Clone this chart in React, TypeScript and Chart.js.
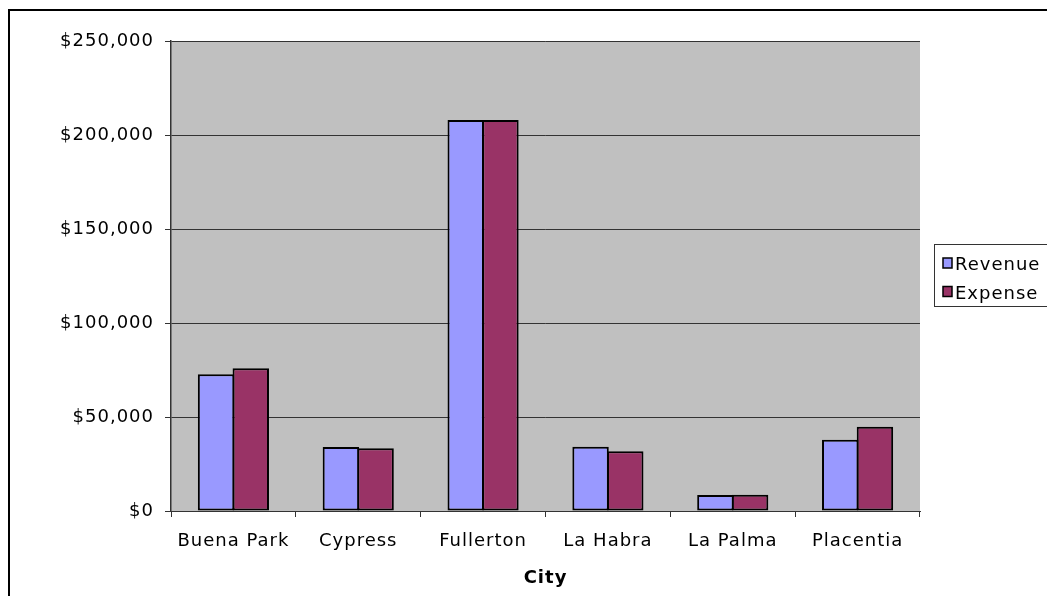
import React, { useEffect, useRef } from 'react';
import { Chart, registerables } from 'chart.js';

Chart.register(...registerables);

const cities = ['Buena Park', 'Cypress', 'Fullerton', 'La Habra', 'La Palma', 'Placentia'];
const revenue = [72700, 34000, 208000, 34200, 8500, 37900];
const expense = [75900, 33400, 208000, 31800, 8700, 44800];
const seriesNames = ['Revenue', 'Expense'];
const seriesColors = ['#9999FF', '#993366'];
const yMin = 0;
const yMax = 250000;
const yStep = 50000;
const xTitle = 'City';

const FONT = '"DejaVu Sans", Verdana, sans-serif';

const framePlugin = {
  id: 'frame',
  beforeLayout(chart: any) {
    chart.ctx.letterSpacing = '1px';
  },
  beforeDraw(chart: any) {
    const { ctx, chartArea } = chart;
    ctx.save();
    ctx.fillStyle = '#ffffff';
    ctx.fillRect(0, 0, chart.width, chart.height);
    ctx.fillStyle = '#C0C0C0';
    ctx.fillRect(chartArea.left, chartArea.top, chartArea.right - chartArea.left, chartArea.bottom - chartArea.top);
    ctx.strokeStyle = '#000000';
    ctx.lineWidth = 2;
    ctx.strokeRect(9, 10, 1200, 800);
    ctx.restore();
    ctx.letterSpacing = '1px';
  },
};

const legendPlugin = {
  id: 'customLegend',
  afterDraw(chart: any) {
    const ctx = chart.ctx;
    ctx.save();
    ctx.letterSpacing = '1px';
    ctx.fillStyle = '#ffffff';
    ctx.fillRect(934.5, 244.5, 200, 62);
    ctx.strokeStyle = '#333333';
    ctx.lineWidth = 1;
    ctx.strokeRect(934.5, 244.5, 200, 62);
    [0, 1].forEach((i) => {
      const sy = 258 + i * 28.5;
      ctx.fillStyle = seriesColors[i];
      ctx.fillRect(943, sy, 9, 10);
      ctx.strokeStyle = '#000000';
      ctx.lineWidth = 1.5;
      ctx.strokeRect(943, sy, 9, 10);
      ctx.fillStyle = '#000000';
      ctx.font = `18px ${FONT}`;
      ctx.textBaseline = 'alphabetic';
      ctx.textAlign = 'left';
      ctx.fillText(seriesNames[i], 955, 270 + i * 28.5);
    });
    ctx.restore();
  },
};

export default function App() {
  const canvasRef = useRef<HTMLCanvasElement | null>(null);

  useEffect(() => {
    const canvas = canvasRef.current;
    if (!canvas) return;
    const chart = new Chart(canvas, {
      type: 'bar',
      data: {
        labels: cities,
        datasets: [
          {
            label: seriesNames[0],
            data: revenue,
            backgroundColor: seriesColors[0],
            borderColor: '#000000',
            borderWidth: 2,
            borderSkipped: false,
          },
          {
            label: seriesNames[1],
            data: expense,
            backgroundColor: seriesColors[1],
            borderColor: '#000000',
            borderWidth: 2,
            borderSkipped: false,
          },
        ],
      },
      options: {
        responsive: false,
        animation: false,
        devicePixelRatio: 1,
        layout: { padding: { left: 0, top: 41, right: 127, bottom: 0 } },
        datasets: { bar: { categoryPercentage: 0.556, barPercentage: 1.05 } },
        plugins: {
          legend: { display: false },
          tooltip: { enabled: false },
          title: { display: false },
        },
        scales: {
          x: {
            grid: {
              display: true,
              drawOnChartArea: false,
              drawTicks: true,
              tickLength: 6,
              color: '#333333',
              offset: true,
            },
            border: { display: true, color: '#333333', width: 1 },
            ticks: {
              color: '#000000',
              font: { family: FONT, size: 18 },
              padding: 14,
              maxRotation: 0,
              autoSkip: false,
            },
            title: {
              display: true,
              text: xTitle,
              color: '#000000',
              font: { family: FONT, size: 18, weight: 'bold' },
              padding: { top: 0, bottom: 7 },
            },
            afterFit(scale: any) {
              scale.height = 85;
            },
          },
          y: {
            min: yMin,
            max: yMax,
            ticks: {
              stepSize: yStep,
              color: '#000000',
              font: { family: FONT, size: 18 },
              padding: 11,
              callback: (v: any) => '$' + Number(v).toLocaleString('en-US'),
            },
            grid: {
              color: '#333333',
              lineWidth: 1,
              drawTicks: true,
              tickLength: 6,
            },
            border: { display: true, color: '#333333', width: 1.5 },
            afterFit(scale: any) {
              scale.width = 171;
            },
          },
        },
      },
      plugins: [framePlugin, legendPlugin],
    } as any);
    return () => {
      chart.destroy();
    };
  }, []);

  return (
    <div style={{ position: 'absolute', left: 0, top: 0, width: 1047, height: 596, overflow: 'hidden', background: '#fff' }}>
      <canvas ref={canvasRef} width={1047} height={596} style={{ display: 'block', width: 1047, height: 596 }} />
    </div>
  );
}
